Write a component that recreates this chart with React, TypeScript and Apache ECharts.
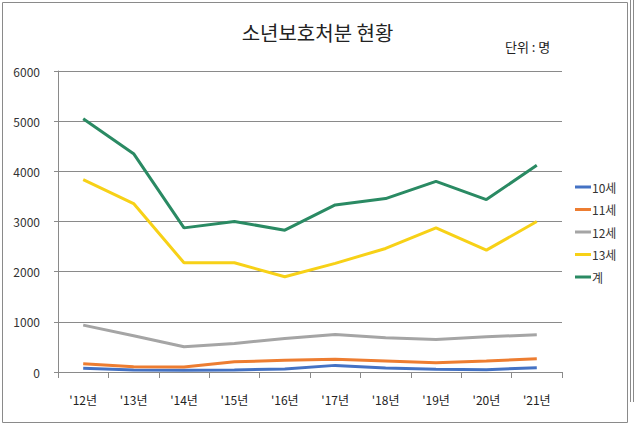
import React, { useEffect, useRef } from "react";
import * as echarts from "echarts";

const categories = ["'12년", "'13년", "'14년", "'15년", "'16년", "'17년", "'18년", "'19년", "'20년", "'21년"];
const age10 = [73, 40, 33, 40, 60, 132, 79, 53, 46, 86];
const age11 = [166, 106, 99, 205, 232, 252, 219, 185, 219, 265];
const age12 = [934, 722, 503, 570, 669, 748, 682, 649, 702, 742];
const age13 = [3835, 3358, 2177, 2177, 1899, 2165, 2463, 2873, 2429, 3000];
const total = [5048, 4352, 2873, 3000, 2827, 3330, 3457, 3801, 3437, 4119];
const seriesNames = ["10세", "11세", "12세", "13세", "계"];
const seriesColors = ["#4472C4", "#ED7D31", "#A5A5A5", "#F7D117", "#2A8A63"];

const FONT = "'Noto Sans CJK KR', 'Noto Sans', sans-serif";

export default function App() {
  const ref = useRef<HTMLDivElement>(null);
  useEffect(() => {
    if (!ref.current) return;
    const chart = echarts.init(ref.current, undefined, { renderer: "svg" });
    const data = [age10, age11, age12, age13, total];
    chart.setOption({
      animation: false,
      backgroundColor: "#ffffff",
      textStyle: { fontFamily: FONT },
      title: {
        text: "소년보호처분 현황",
        left: "center",
        top: 17,
        textStyle: { fontFamily: FONT, fontSize: 20, fontWeight: "normal", color: "#222" },
      },
      graphic: [
        { type: "rect", shape: { x: 2.5, y: 2.5, width: 625, height: 420 }, style: { fill: "none", stroke: "#8a8a8a", lineWidth: 1 }, silent: true },
        { type: "line", shape: { x1: 630.5, y1: 0, x2: 630.5, y2: 402 }, style: { stroke: "#8a8a8a", lineWidth: 1 }, silent: true },
        { type: "line", shape: { x1: 633.5, y1: 0, x2: 633.5, y2: 402 }, style: { stroke: "#8a8a8a", lineWidth: 1 }, silent: true },
        {
          type: "text",
          left: 505,
          top: 40,
          style: { text: "단위 : 명", fontFamily: FONT, fontSize: 13, fill: "#222" },
          silent: true,
        },
      ],
      legend: {
        orient: "vertical",
        left: 570,
        top: 175,
        icon: "rect",
        itemWidth: 16,
        itemHeight: 3,
        itemGap: 8.5,
        data: seriesNames,
        textStyle: { fontFamily: FONT, fontSize: 12, lineHeight: 14, color: "#333", padding: [0, 0, 0, -4] },
      },
      grid: { left: 58, right: 73, top: 71, bottom: 57 },
      xAxis: {
        type: "category",
        data: categories,
        boundaryGap: true,
        axisLine: { show: true, lineStyle: { color: "#8a8a8a", width: 1 } },
        axisTick: { show: true, length: 6, alignWithLabel: false, lineStyle: { color: "#8a8a8a" } },
        axisLabel: { margin: 21, fontFamily: FONT, fontSize: 12, color: "#222" },
      },
      yAxis: {
        type: "value",
        min: 0,
        max: 6000,
        interval: 1000,
        axisLine: { show: true, lineStyle: { color: "#8a8a8a", width: 1 } },
        axisTick: { show: true, length: 4, lineStyle: { color: "#8a8a8a" } },
        axisLabel: { margin: 18, fontFamily: FONT, fontSize: 12, color: "#333", formatter: (v: number) => String(v) },
        splitLine: { show: true, lineStyle: { color: "#8a8a8a", width: 1 } },
      },
      series: seriesNames.map((name, i) => ({
        name,
        type: "line",
        data: data[i],
        symbol: "none",
        lineStyle: { color: seriesColors[i], width: 3 },
        itemStyle: { color: seriesColors[i] },
        z: 3 + i,
      })),
    });
    return () => chart.dispose();
  }, []);
  return <div ref={ref} style={{ width: 635, height: 429, position: "absolute", left: 0, top: 0 }} />;
}
